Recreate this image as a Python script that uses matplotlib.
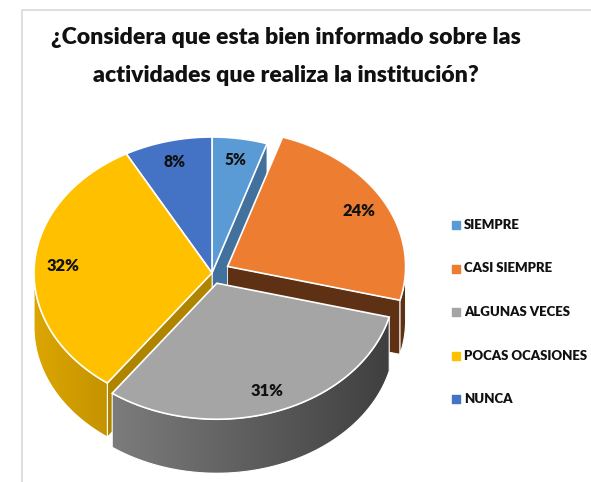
import numpy as np
import matplotlib.pyplot as plt
from matplotlib.patches import Polygon
from matplotlib.colors import LinearSegmentedColormap

title_lines = ["¿Considera que esta bien informado sobre las",
               "actividades que realiza la institución?"]
categories = ["SIEMPRE", "CASI SIEMPRE", "ALGUNAS VECES", "POCAS OCASIONES", "NUNCA"]
values = [5, 24, 31, 32, 8]
explode = [0.0, 0.10, 0.08, 0.0, 0.0]

top_colors = ["#5B9BD5", "#ED7D31", "#A5A5A5", "#FFC000", "#4472C4"]
wall_colors = [("#41719C", "#41719C"), ("#5E3114", "#5E3114"), ("#7C7C7C", "#3F3F3F"),
               ("#DCA600", "#C49300"), ("#2F5597", "#2F5597")]
cut_colors = ["#41719C", "#5E3114", "#6E6E6E", "#AF8500", "#2F5597"]

FONT = ["Lato", "DejaVu Sans"]
WEIGHT = "heavy"

# pie geometry in pixel space
cx, cy = 212, 273
rx, ry = 178, 136
depth = 54


def pt(theta, off, dz=0.0, r=1.0):
    t = np.radians(theta)
    return (cx + off[0] + r * rx * np.cos(t), cy + off[1] - r * ry * np.sin(t) + dz)


def arc(a_from, a_to, off, dz=0.0, n=60):
    return [pt(a, off, dz) for a in np.linspace(a_from, a_to, n)]


def grad_poly(ax, verts, c1, c2, z):
    poly = Polygon(verts, closed=True, facecolor="none", edgecolor="white",
                   linewidth=0.8, zorder=z + 0.1)
    ax.add_patch(poly)
    xs = [v[0] for v in verts]
    ys = [v[1] for v in verts]
    cmap = LinearSegmentedColormap.from_list("g", [c1, c2])
    im = ax.imshow(np.linspace(0, 1, 256)[None, :], cmap=cmap,
                   extent=(min(xs), max(xs), max(ys), min(ys)),
                   aspect="auto", interpolation="bilinear", zorder=z)
    im.set_clip_path(poly)


def fit_text(t, width_px, renderer):
    # scale the font so the text spans roughly the reference width
    w = t.get_window_extent(renderer).width
    t.set_fontsize(t.get_fontsize() * width_px / w)


fig = plt.figure(figsize=(5.91, 4.82), dpi=100)
ax = fig.add_axes([0, 0, 1, 1])
ax.set_axis_off()
ax.set_xlim(0, 591)
ax.set_ylim(482, 0)
renderer = fig.canvas.get_renderer()

# slice angles (clockwise from 12 o'clock)
total = float(sum(values))
slices = []
start = 90.0
for i, v in enumerate(values):
    a1 = start
    a2 = start - v / total * 360.0
    mid = (a1 + a2) / 2
    off = (explode[i] * rx * np.cos(np.radians(mid)),
           -explode[i] * ry * np.sin(np.radians(mid)))
    slices.append((i, a1, a2, mid, off))
    start = a2

# back to front
order = sorted(slices, key=lambda s: np.sin(np.radians(s[3])), reverse=True)

z = 1
for i, a1, a2, mid, off in order:
    # radial cut faces that face the viewer
    for a, normal in ((a1, a1 + 90), (a2, a2 - 90)):
        if np.sin(np.radians(normal)) < -1e-6:
            c = pt(0, off, r=0.0)
            rim = pt(a, off)
            quad = [c, rim, (rim[0], rim[1] + depth), (c[0], c[1] + depth)]
            ax.add_patch(Polygon(quad, closed=True, facecolor=cut_colors[i],
                                 edgecolor="white", linewidth=0.6, zorder=z))
            z += 1
    # outer wall on the front half
    for shift in (-360, 0, 360):
        lo = max(a2 + shift, -180)
        hi = min(a1 + shift, 0)
        if hi - lo > 0.1:
            verts = arc(lo, hi, off) + arc(hi, lo, off, depth)
            grad_poly(ax, verts, wall_colors[i][0], wall_colors[i][1], z)
            z += 1

for i, a1, a2, mid, off in order:
    verts = [pt(0, off, r=0.0)] + arc(a1, a2, off)
    ax.add_patch(Polygon(verts, closed=True, facecolor=top_colors[i],
                         edgecolor="white", linewidth=1.2, zorder=z))
    z += 1

for i, a1, a2, mid, off in slices:
    lx, ly = pt(mid, off, r=0.84)
    t = ax.text(lx, ly, f"{values[i]}%", ha="center", va="center", fontsize=12,
                fontweight=WEIGHT, family=FONT, color="#111111", zorder=z)
    fit_text(t, 11.0 * len(t.get_text()), renderer)

# legend
leg_texts = []
for k, name in enumerate(categories):
    yy = 225 + k * 43.5
    ax.scatter([456], [yy], marker="s", s=26, color=top_colors[k], zorder=z)
    leg_texts.append(ax.text(464, yy, name, ha="left", va="center", fontsize=12,
                             fontweight=WEIGHT, family=FONT, color="#111111", zorder=z))
longest = max(leg_texts, key=lambda t: t.get_window_extent(renderer).width)
leg_size = longest.get_fontsize() * 124 / longest.get_window_extent(renderer).width
for t in leg_texts:
    t.set_fontsize(leg_size)

# title
t1 = ax.text(286, 38, title_lines[0], ha="center", va="center", fontsize=17,
             fontweight=WEIGHT, family=FONT, color="#111111")
fit_text(t1, 468, renderer)
ax.text(286, 75, title_lines[1], ha="center", va="center", fontsize=t1.get_fontsize(),
        fontweight=WEIGHT, family=FONT, color="#111111")

# chart area border
ax.plot([22, 22, 591], [482, 10, 10], color="#D9D9D9", linewidth=1.2, zorder=0)

ax.set_xlim(0, 591)
ax.set_ylim(482, 0)
fig.savefig("out.png", dpi=100)
